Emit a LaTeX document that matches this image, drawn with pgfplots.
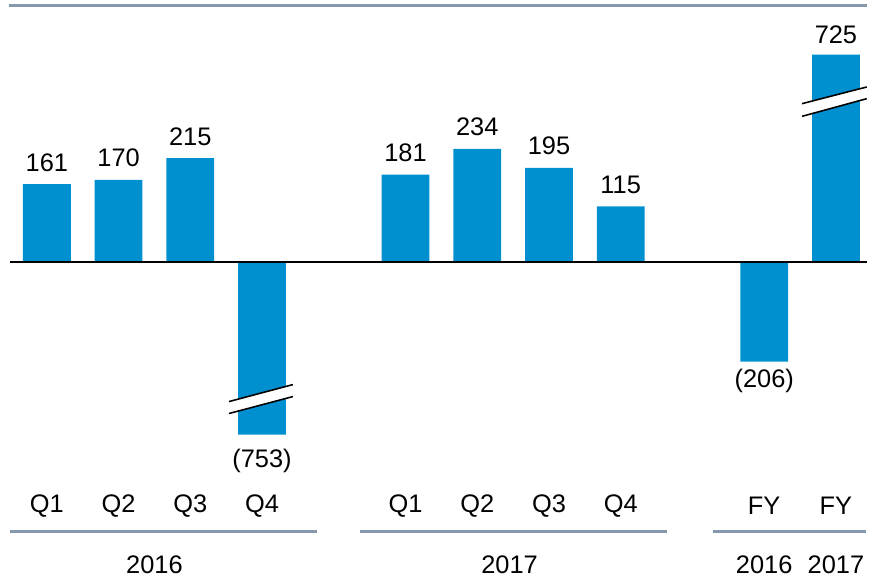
\documentclass[border=0pt]{standalone}
\usepackage{pgfplots}
\pgfplotsset{compat=1.18}
\usepackage{fontspec}
\setmainfont{Liberation Sans}
\definecolor{barblue}{HTML}{0090D0}
\definecolor{rulegray}{HTML}{8598AD}
\begin{document}
\begin{tikzpicture}
\begin{axis}[
  scale only axis, width=17.4cm, height=11.5cm,
  xmin=-0.6528, xmax=11.4306, ymin=-643.3, ymax=542.3,
  hide axis, clip=false,
  every node near coord/.append style={anchor=center, font=\fontsize{14.5}{17}\selectfont, text=black},
]
% fixed frame for the picture
\path (axis cs:-0.6528,-643.3) rectangle (axis cs:11.4306,542.3);
% bars (broken bars drawn at their displayed height)
\addplot[ybar, bar width=0.667, bar shift=0pt, fill=barblue, draw=none]
  coordinates {(0,161) (1,170) (2,215) (3,-357) (5,181) (6,234) (7,195) (8,115) (10,-206) (11,429)};
% zero line
\draw[black, line width=0.85pt] (axis cs:-0.514,0) -- (axis cs:11.43,0);
% axis break marks
\addplot[fill=white, draw=none] coordinates {(2.54,-288.7) (3.43,-253.6) (3.43,-278.4) (2.54,-313.4)} -- cycle;
\addplot[black, line width=0.9pt] coordinates {(2.54,-288.7) (3.43,-253.6)};
\addplot[black, line width=0.9pt] coordinates {(2.54,-313.4) (3.43,-278.4)};
\addplot[fill=white, draw=none] coordinates {(10.528,327.8) (11.43,362.3) (11.43,338.1) (10.528,301.6)} -- cycle;
\addplot[black, line width=0.9pt] coordinates {(10.528,327.8) (11.43,362.3)};
\addplot[black, line width=0.9pt] coordinates {(10.528,301.6) (11.43,338.1)};
% value labels
\addplot[draw=none, mark=none, nodes near coords, point meta=explicit symbolic]
  table[meta=label, row sep=\\] {
  x y label\\
  0 206 161\\
  1 215 170\\
  2 260 215\\
  3 -412 (753)\\
  5 226 181\\
  6 279 234\\
  7 240 195\\
  8 160 115\\
  10 -247 (206)\\
  11 470 725\\
};
% category labels
\addplot[draw=none, mark=none, nodes near coords, point meta=explicit symbolic]
  table[meta=label, row sep=\\] {
  x y label\\
  0 -505 Q1\\
  1 -505 Q2\\
  2 -505 Q3\\
  3 -505 Q4\\
  5 -505 Q1\\
  6 -505 Q2\\
  7 -505 Q3\\
  8 -505 Q4\\
  10 -505 FY\\
  11 -505 FY\\
  1.5 -627 2016\\
  6.45 -627 2017\\
  10 -627 2016\\
  11 -627 2017\\
};
% rules
\draw[rulegray, line width=1.7pt] (axis cs:-0.528,531) -- (axis cs:11.43,531);
\draw[rulegray, line width=1.7pt] (axis cs:-0.514,-556.7) -- (axis cs:3.764,-556.7);
\draw[rulegray, line width=1.7pt] (axis cs:4.36,-556.7) -- (axis cs:8.64,-556.7);
\draw[rulegray, line width=1.7pt] (axis cs:9.28,-556.7) -- (axis cs:11.42,-556.7);
\end{axis}
\end{tikzpicture}
\end{document}
